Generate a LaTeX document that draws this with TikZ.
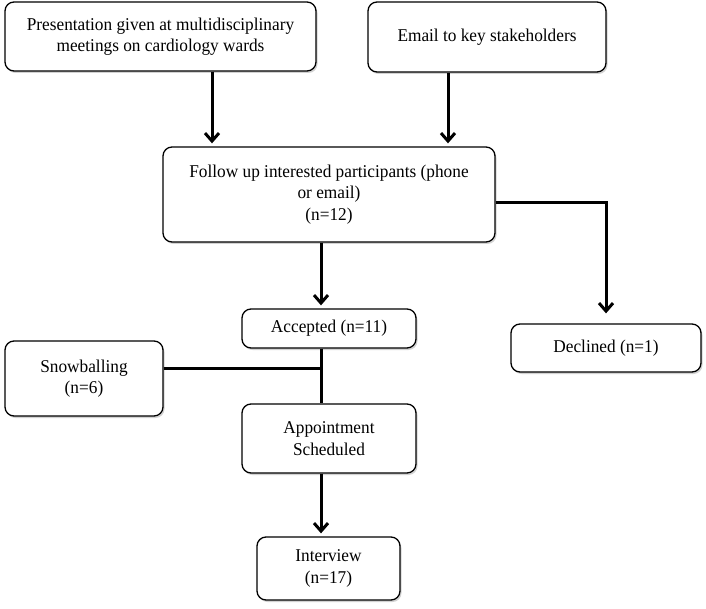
\documentclass[tikz,border=0pt]{standalone}
\usepackage{fontspec}
\setmainfont[FakeStretch=0.96]{Liberation Serif}
\usetikzlibrary{arrows.meta,shadows}
\begin{document}
\begin{tikzpicture}[x=1pt,y=-1pt,
  box/.style={draw=black, line width=1.3pt, rounded corners=9pt, fill=white,
    align=center, inner sep=0pt, font=\fontsize{18}{21.5}\selectfont,
    drop shadow={shadow xshift=1.5pt, shadow yshift=-2pt, fill=black!35, opacity=0.5}},
  conn/.style={line width=3pt},
  arr/.style={conn, -{Straight Barb[length=8pt,width=14pt,line width=3pt]}, shorten >=3pt}
]
\useasboundingbox (0,0) rectangle (706,609);
\node[box, minimum width=311pt, minimum height=69pt] (b1) at (160.5,36.5)
  {Presentation given at multidisciplinary\\meetings on cardiology wards};
\node[box, minimum width=238pt, minimum height=70pt] (b2) at (487,37)
  {Email to key stakeholders};
\node[box, minimum width=332pt, minimum height=95pt] (b3) at (329,194.5)
  {Follow up interested participants (phone\\or email)\\(n=12)};
\node[box, minimum width=174pt, minimum height=39pt] (acc) at (329,328.5)
  {Accepted (n=11)};
\node[box, minimum width=190pt, minimum height=48pt] (dec) at (606,348)
  {Declined (n=1)};
\node[box, minimum width=158pt, minimum height=75pt] (snow) at (84,378.5)
  {Snowballing\\(n=6)};
\node[box, minimum width=174pt, minimum height=69pt] (app) at (329,438.5)
  {Appointment\\Scheduled};
\node[box, minimum width=143pt, minimum height=63pt] (int) at (328.5,568.5)
  {Interview\\(n=17)};
\coordinate (c1) at (212,0);
\coordinate (c2) at (448,0);
\coordinate (c3) at (321,0);
\coordinate (c4) at (606,203);
\coordinate (j1) at (321,368);
\draw[arr] (b1.south -| c1) -- (b3.north -| c1);
\draw[arr] (b2.south -| c2) -- (b3.north -| c2);
\draw[arr] (b3.south -| c3) -- (acc.north -| c3);
\draw[arr, shorten >=10pt] (b3.east |- c4) -- (c4) -- (dec.north);
\draw[conn] (acc.south -| c3) -- (app.north -| c3);
\draw[conn] (snow.east |- j1) -- (j1);
\draw[arr] (app.south -| c3) -- (int.north -| c3);
\end{tikzpicture}
\end{document}
